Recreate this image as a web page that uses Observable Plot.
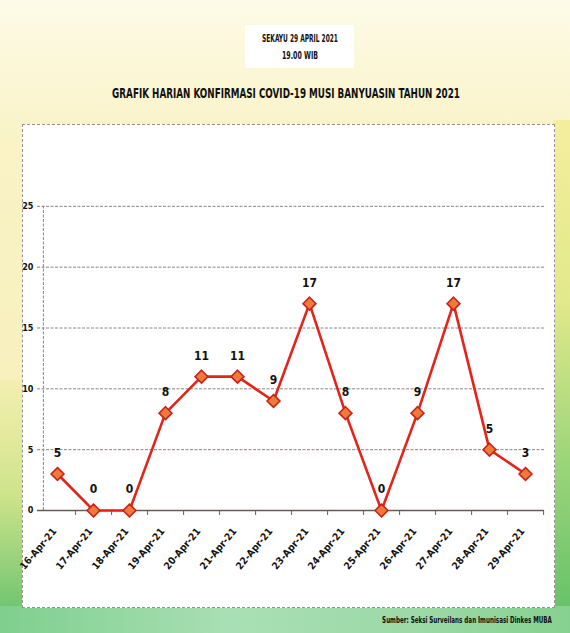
<!DOCTYPE html>
<html>
<head>
<meta charset="utf-8">
<script src="https://cdn.jsdelivr.net/npm/d3@7"></script>
<script src="https://cdn.jsdelivr.net/npm/@observablehq/plot@0.6"></script>
<style>
  html, body { margin: 0; padding: 0; }
  body {
    width: 570px; height: 633px; position: relative; overflow: hidden;
    background: linear-gradient(to bottom, #fdfbe8 0%, #f9f3c6 22%, #f6eeb4 100%);
    font-family: "Liberation Sans Narrow", "DejaVu Sans Condensed", "Liberation Sans", sans-serif;
  }
  .abs { position: absolute; }
  #rightStrip { left: 553px; top: 120px; width: 17px; bottom: 0;
    background: linear-gradient(to bottom, #f4ee9e 0%, #e2e98a 35%, #9fd67a 65%, #5fbf66 100%); }
  #leftStrip { left: 0; top: 380px; width: 24px; bottom: 0;
    background: linear-gradient(to bottom, #f4efb0 0%, #cfe48a 45%, #5cbf6a 100%); }
  #bottomStrip { left: 0; top: 606px; width: 570px; height: 27px;
    background: linear-gradient(to right, #7fcf8e 0%, #a9dfb4 40%, #9bd9a6 75%, #86d18f 100%); }
  #chartBox { left: 22px; top: 124px; width: 533px; height: 484px; box-sizing: border-box;
    background: #ffffff; border: 1px dashed #9a8f8f; }
  #chart { position: absolute; left: 0; top: 0; }
  svg text { font-family: "DejaVu Sans Condensed", "Liberation Sans", sans-serif; }
</style>
</head>
<body>
<div id="leftStrip" class="abs"></div>
<div id="rightStrip" class="abs"></div>
<div id="bottomStrip" class="abs"></div>

<svg class="abs" style="left:0;top:0" width="570" height="120">
  <rect x="245" y="25" width="109" height="43" fill="#ffffff"/>
  <text id="dateLine" text-anchor="middle" font-size="10" font-weight="bold" fill="#111"></text>
  <text id="timeLine" text-anchor="middle" font-size="10" font-weight="bold" fill="#111"></text>
  <text id="title" text-anchor="middle" font-size="14.5" font-weight="bold" fill="#111"></text>
</svg>

<div id="chartBox" class="abs"><div id="chart"></div></div>

<svg class="abs" style="left:0;top:606px" width="570" height="27">
  <text id="source" text-anchor="middle" font-size="9.5" font-weight="bold" fill="#111"></text>
</svg>

<script>
// ---- data ----
const dates = ["16-Apr-21","17-Apr-21","18-Apr-21","19-Apr-21","20-Apr-21","21-Apr-21","22-Apr-21",
               "23-Apr-21","24-Apr-21","25-Apr-21","26-Apr-21","27-Apr-21","28-Apr-21","29-Apr-21"];
const cases = [3, 0, 0, 8, 11, 11, 9, 17, 8, 0, 8, 17, 5, 3];
const caseLabels = ["5","0","0","8","11","11","9","17","8","0","9","17","5","3"];
const yTicks = [0, 5, 10, 15, 20, 25];
const yTickLabels = ["0","5","10","15","20","25"];
const titleText = "GRAFIK HARIAN KONFIRMASI COVID-19 MUSI BANYUASIN TAHUN 2021";
const dateText = "SEKAYU 29 APRIL 2021";
const timeText = "19.00 WIB";
const sourceText = "Sumber: Seksi Surveilans dan Imunisasi Dinkes MUBA";

// place a text centred at (cx, baseline) squeezed horizontally to a target width
function fitText(id, str, cx, baseline, targetW) {
  const el = document.getElementById(id);
  el.textContent = str;
  const w = el.getComputedTextLength();
  const s = Math.min(1, targetW / w);
  el.setAttribute("transform", `translate(${cx},${baseline}) scale(${s},1)`);
}
fitText("title", titleText, 286, 98, 348);
fitText("dateLine", dateText, 300, 42, 76);
fitText("timeLine", timeText, 300, 59, 36);
fitText("source", sourceText, 467, 17, 170);

const data = dates.map((d, i) => ({date: d, value: cases[i], label: caseLabels[i]}));

const W = 531, H = 482, mL = 14, mR = 10;
const bw = (W - mL - mR) / dates.length;
const gridColor = "#8e8282";
const font = '"DejaVu Sans Condensed", "Liberation Sans", sans-serif';

const chart = Plot.plot({
  width: W, height: H,
  marginLeft: mL, marginRight: mR, marginTop: 20, marginBottom: 97,
  style: {background: "transparent", fontFamily: font, color: "#111", overflow: "visible"},
  x: {type: "band", domain: dates, padding: 0, label: null},
  y: {domain: [0, 30], label: null},
  marks: [
    Plot.ruleY(yTicks.filter(t => t > 0), {stroke: gridColor, strokeDasharray: "3,1.5", strokeWidth: 1}),
    Plot.ruleX([dates[0]], {x: d => d, y1: 0, y2: 25, dx: -bw / 2 + 4, stroke: gridColor, strokeDasharray: "3,1.5"}),
    Plot.ruleX(dates, {x: d => d, y1: 0, y2: 0, dx: bw / 2, insetBottom: -5, stroke: "#6b5a5a"}),
    Plot.ruleY([0], {stroke: "#6b5a5a", strokeWidth: 1.3}),
    Plot.axisY({ticks: yTicks, tickSize: 0, tickPadding: 4, fontSize: 9, fontWeight: "bold",
      tickFormat: (d) => yTickLabels[yTicks.indexOf(d)], label: null}),
    Plot.axisX({tickSize: 0, tickRotate: -50, tickPadding: 19, dx: -3, fontSize: 10, fontWeight: "bold", label: null}),
    Plot.line(data, {x: "date", y: "value", stroke: "#e3241b", strokeWidth: 2.6}),
    Plot.dot(data, {x: "date", y: "value", symbol: "diamond2", r: 5.8, fill: "#ef7b3b", stroke: "#c8231a", strokeWidth: 1.6}),
    Plot.text(data, {x: "date", y: "value", text: "label", dy: -21, fontSize: 12, fontWeight: "bold", fill: "#111"})
  ]
});
document.getElementById("chart").appendChild(chart);
</script>
</body>
</html>
